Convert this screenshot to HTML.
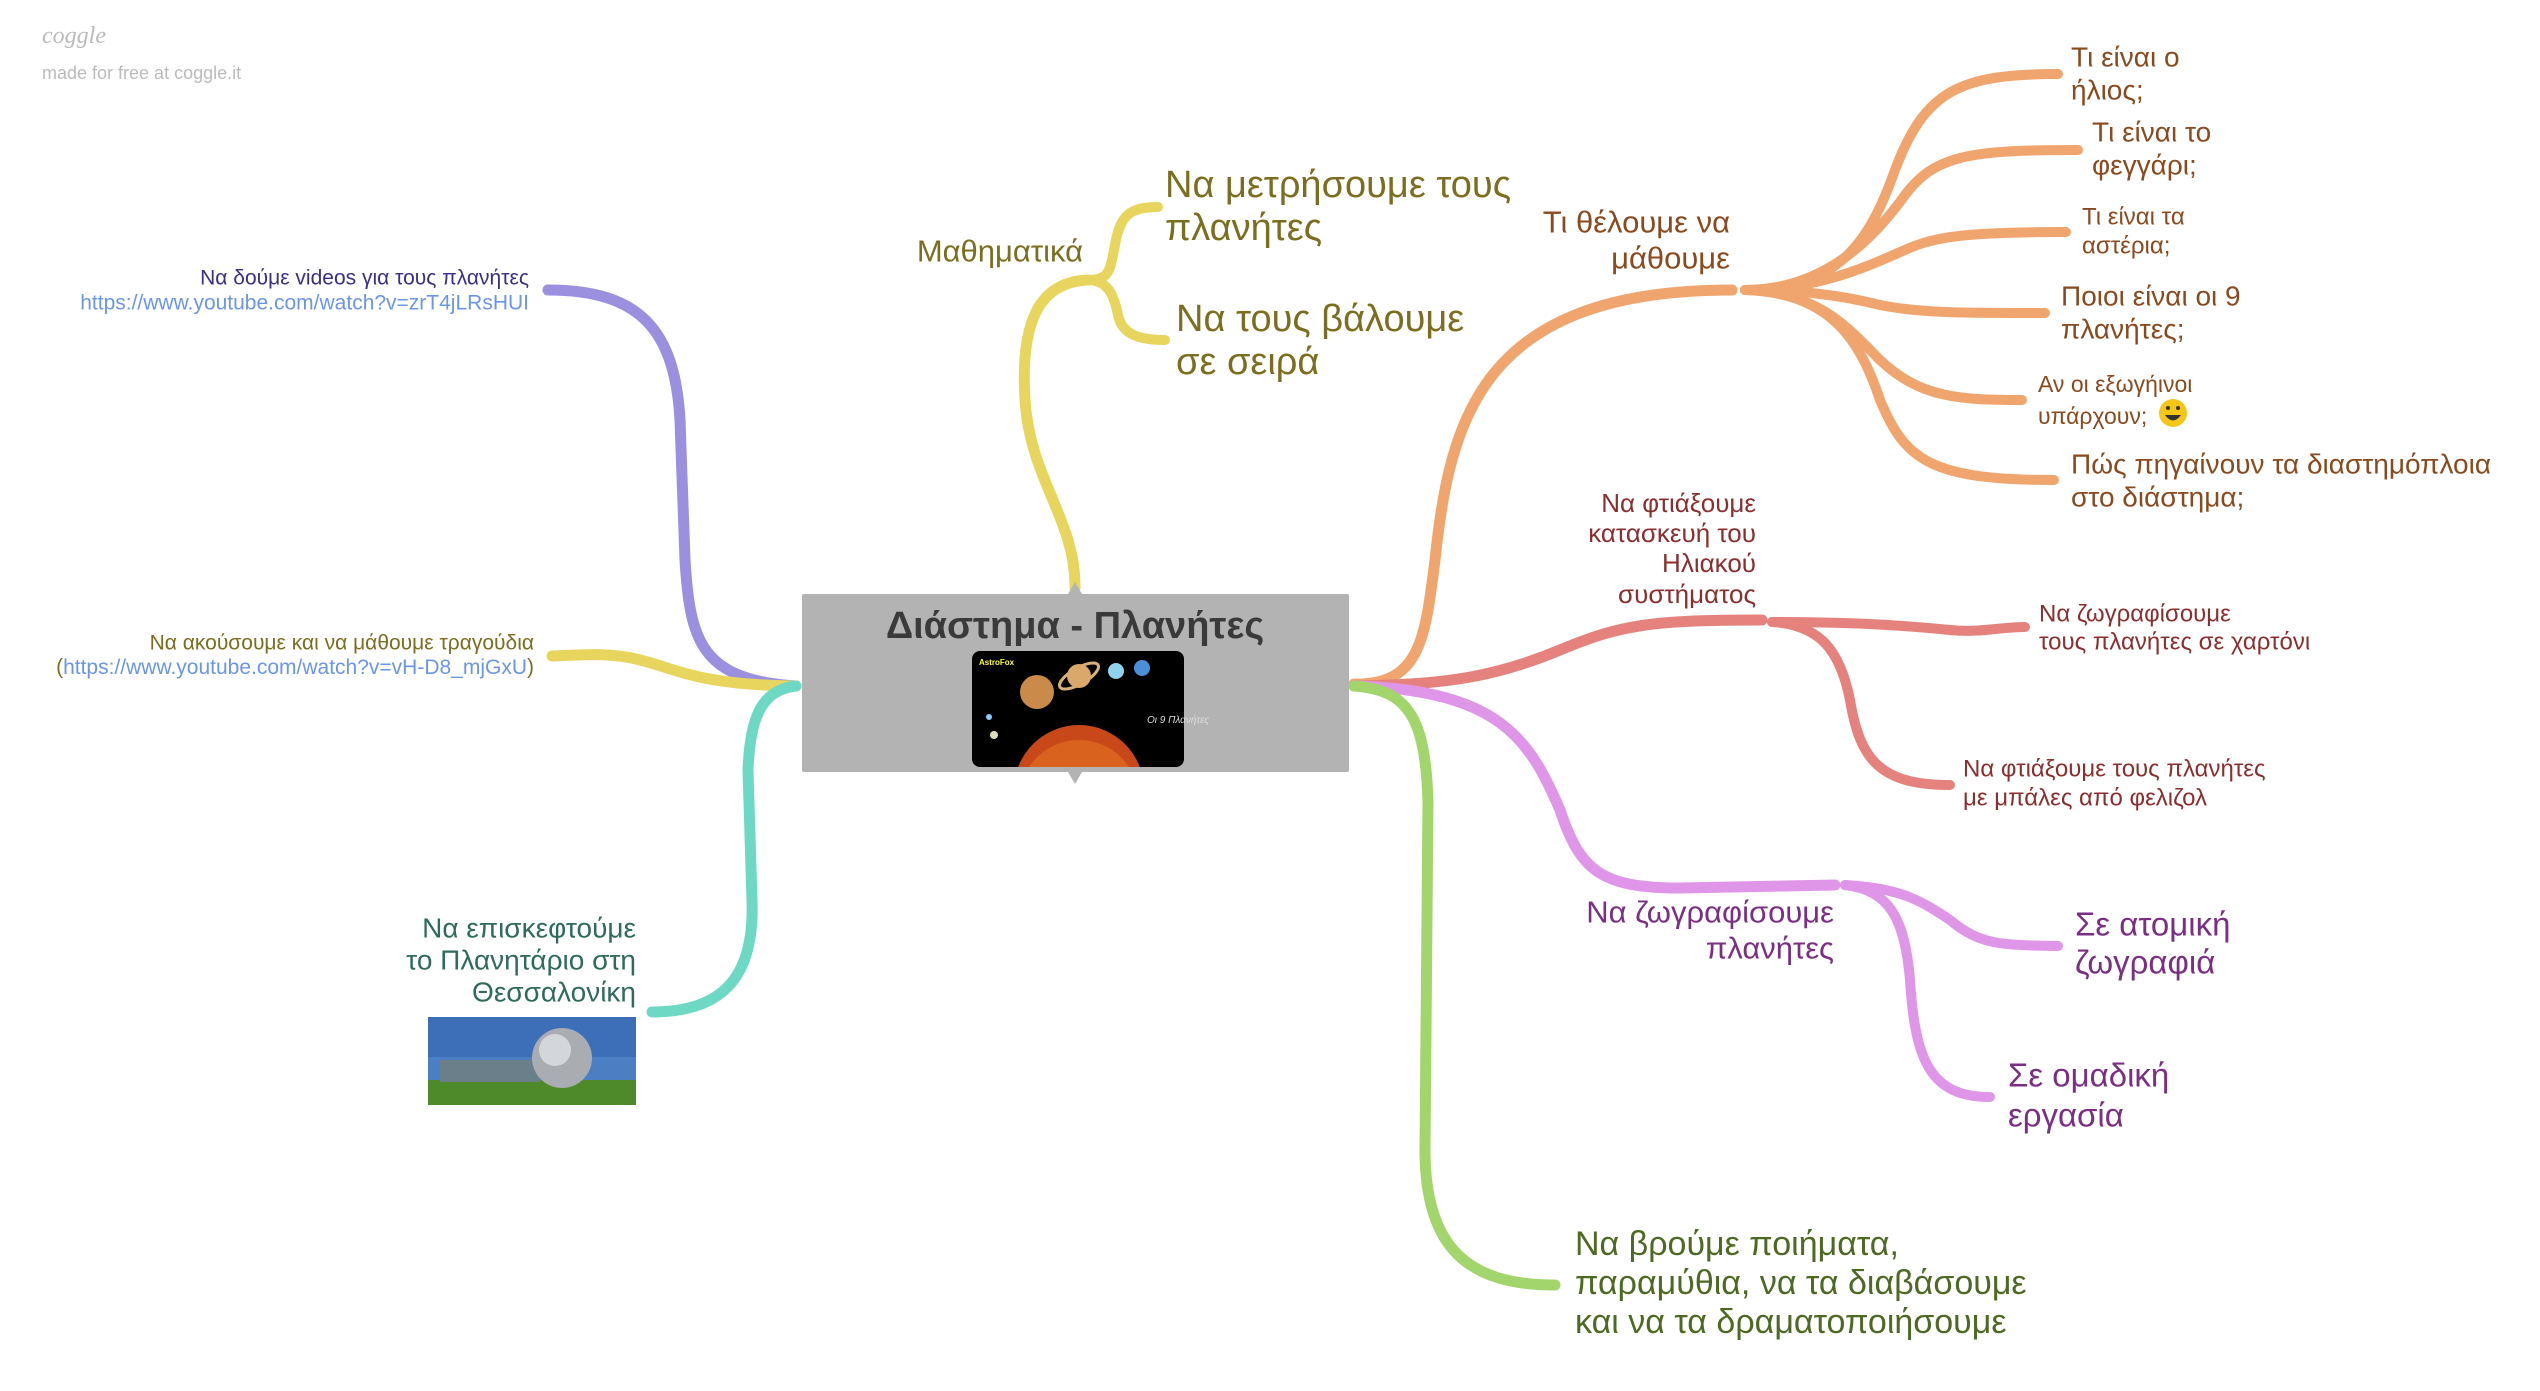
<!DOCTYPE html>
<html><head><meta charset="utf-8"><style>
html,body{margin:0;padding:0;background:#fff;}
svg{display:block;font-family:"Liberation Sans","Noto Sans CJK SC",sans-serif;}
</style></head><body>
<svg width="2540" height="1391" viewBox="0 0 2540 1391" xmlns="http://www.w3.org/2000/svg">
<g fill="none" stroke-linecap="round">
<path d="M796,686 C700,680 690,640 685,560 L680,420 C675,330 640,290 548,290" stroke="#9b8fe0" stroke-width="11"/>
<path d="M796,686 C700,685 680,670 640,660 C610,652 580,655 552,656" stroke="#e8d55e" stroke-width="11"/>
<path d="M796,686 C760,690 750,720 748,770 L752,900 C755,980 720,1012 652,1012" stroke="#6dd9c4" stroke-width="11"/>
<path d="M1075,588 C1076,520 1030,480 1025,400 C1020,320 1040,282 1088,280" stroke="#e8d55e" stroke-width="11"/>
<path d="M1088,280 C1110,280 1110,270 1115,245 C1120,215 1130,207 1158,207" stroke="#e8d55e" stroke-width="10"/>
<path d="M1088,280 C1110,280 1115,300 1118,315 C1122,335 1140,340 1165,340" stroke="#e8d55e" stroke-width="10"/>
<path d="M1354,684 C1420,685 1425,640 1435,560 C1450,420 1480,290 1732,290" stroke="#f0a56e" stroke-width="11"/>
<g stroke="#f0a56e" stroke-width="10">
<path d="M1745,290 C1840,290 1870,240 1895,170 C1925,90 1960,74 2058,74"/>
<path d="M1745,290 C1830,290 1880,230 1905,195 C1935,155 1970,150 2078,150"/>
<path d="M1745,290 C1820,290 1870,265 1905,250 C1935,236 1970,232 2066,232"/>
<path d="M1745,290 C1800,290 1840,295 1880,305 C1920,313 1960,313 2045,313"/>
<path d="M1745,290 C1820,292 1850,330 1880,360 C1920,398 1960,400 2022,400"/>
<path d="M1745,290 C1830,292 1860,340 1880,400 C1905,460 1930,480 2054,480"/>
</g>
<path d="M1354,686 C1450,685 1500,675 1560,650 C1620,625 1650,620 1762,620" stroke="#e5827e" stroke-width="11"/>
<path d="M1772,622 C1850,622 1900,625 1950,630 C1980,633 2000,627 2025,627" stroke="#e5827e" stroke-width="10"/>
<path d="M1772,622 C1820,625 1840,650 1850,700 C1860,760 1880,785 1950,785" stroke="#e5827e" stroke-width="10"/>
<path d="M1354,686 C1500,690 1530,740 1560,810 C1580,870 1600,888 1680,888 L1835,885" stroke="#e096e8" stroke-width="11"/>
<path d="M1845,885 C1900,888 1920,900 1950,920 C1980,945 2000,945 2058,946" stroke="#e096e8" stroke-width="10"/>
<path d="M1845,885 C1890,890 1905,920 1910,980 C1915,1060 1930,1097 1990,1097" stroke="#e096e8" stroke-width="10"/>
<path d="M1354,686 C1410,690 1425,720 1428,800 L1425,1150 C1425,1250 1470,1285 1555,1285" stroke="#a2d66c" stroke-width="11"/>
</g>

<rect x="802" y="594" width="547" height="178" fill="#b3b3b3" rx="2"/>
<polygon points="1068,594 1082,594 1075,582" fill="#b3b3b3"/>
<polygon points="1068,772 1082,772 1075,784" fill="#b3b3b3"/>
<text x="1075" y="626" text-anchor="middle" dominant-baseline="central" font-size="38" font-weight="bold" fill="#3a3a3a">Διάστημα - Πλανήτες</text>
<clipPath id="c1"><rect x="972" y="651" width="212" height="116" rx="8"/></clipPath>
<rect x="972" y="651" width="212" height="116" rx="8" fill="#000"/>
<circle cx="1079" cy="790" r="65" fill="#c9481a" clip-path="url(#c1)"/>
<circle cx="1079" cy="800" r="60" fill="#d9621f" clip-path="url(#c1)"/>
<circle cx="1037" cy="692" r="17" fill="#c98a4a"/>
<ellipse cx="1079" cy="676" rx="22" ry="8" fill="none" stroke="#d9b07a" stroke-width="3" transform="rotate(-30 1079 676)"/>
<circle cx="1079" cy="676" r="12" fill="#d9a86a"/>
<circle cx="1116" cy="671" r="8" fill="#8fd3ef"/>
<circle cx="1142" cy="668" r="8" fill="#4a8fd8"/>
<text x="979" y="665" font-size="8" fill="#ff4" font-weight="bold">AstroFox</text>
<text x="1147" y="723" font-size="10" fill="#ddd" font-style="italic">Οι 9 Πλανήτες</text>
<circle cx="994" cy="735" r="4" fill="#ddb"/><circle cx="989" cy="717" r="3" fill="#8cf"/>

<rect x="428" y="1017" width="208" height="88" fill="#4a7fc4"/>
<rect x="428" y="1017" width="208" height="40" fill="#3d6fb8"/>
<rect x="428" y="1080" width="208" height="25" fill="#4f8a2a"/>
<rect x="440" y="1060" width="100" height="22" fill="#6a7f8a"/>
<circle cx="562" cy="1058" r="30" fill="#a9adb2"/>
<circle cx="555" cy="1050" r="16" fill="#d3d6da"/>

<text x="42" y="43" font-size="24" fill="#bbb" font-style="italic" font-family="Liberation Serif,serif">coggle</text>
<text x="42" y="79" font-size="18" fill="#bbb">made for free at coggle.it</text>

<g dominant-baseline="central">
<g text-anchor="end" font-size="21">
<text x="529" y="278" fill="#3b2e87">Να δούμε videos για τους πλανήτες</text>
<text x="529" y="303" fill="#6b96e8">https://www.youtube.com/watch?v=zrT4jLRsHUI</text>
<text x="534" y="643" fill="#7b6e1f">Να ακούσουμε και να μάθουμε τραγούδια</text>
<text x="534" y="667" fill="#7b6e1f">(<tspan fill="#6b96e8">https://www.youtube.com/watch?v=vH-D8_mjGxU</tspan>)</text>
</g>
<g text-anchor="end" font-size="28" fill="#2e6b5c">
<text x="636" y="928">Να επισκεφτούμε</text>
<text x="636" y="960">το Πλανητάριο στη</text>
<text x="636" y="992">Θεσσαλονίκη</text>
</g>
<text x="1083" y="251" text-anchor="end" font-size="31" fill="#7b6e1f">Μαθηματικά</text>
<g font-size="38" fill="#7b6e1f">
<text x="1165" y="185">Να μετρήσουμε τους</text>
<text x="1165" y="228">πλανήτες</text>
<text x="1176" y="319">Να τους βάλουμε</text>
<text x="1176" y="362">σε σειρά</text>
</g>
<g text-anchor="end" font-size="31" fill="#8a4a1e">
<text x="1730" y="222">Τι θέλουμε να</text>
<text x="1730" y="258">μάθουμε</text>
</g>
<g font-size="28" fill="#8a4a1e">
<text x="2071" y="57">Τι είναι ο</text>
<text x="2071" y="90">ήλιος;</text>
<text x="2092" y="132">Τι είναι το</text>
<text x="2092" y="165">φεγγάρι;</text>
<text x="2061" y="296">Ποιοι είναι οι 9</text>
<text x="2061" y="329">πλανήτες;</text>
<text x="2071" y="464">Πώς πηγαίνουν τα διαστημόπλοια</text>
<text x="2071" y="497">στο διάστημα;</text>
</g>
<g font-size="24" fill="#8a4a1e">
<text x="2082" y="217">Τι είναι τα</text>
<text x="2082" y="246">αστέρια;</text>
</g>
<g font-size="23" fill="#8a4a1e">
<text x="2038" y="384">Αν οι εξωγήινοι</text>
<text x="2038" y="416">υπάρχουν;</text>
</g>
<circle cx="2173" cy="413" r="14" fill="#f5c518"/>
<circle cx="2168" cy="408" r="2" fill="#333"/><circle cx="2178" cy="408" r="2" fill="#333"/>
<path d="M2165,415 Q2173,426 2181,415 Z" fill="#333"/>
<g text-anchor="end" font-size="26" fill="#8b2e2e">
<text x="1756" y="503">Να φτιάξουμε</text>
<text x="1756" y="533">κατασκευή του</text>
<text x="1756" y="563">Ηλιακού</text>
<text x="1756" y="594">συστήματος</text>
</g>
<g font-size="24" fill="#8b2e2e">
<text x="2039" y="614">Να ζωγραφίσουμε</text>
<text x="2039" y="642">τους πλανήτες σε χαρτόνι</text>
<text x="1963" y="769">Να φτιάξουμε τους πλανήτες</text>
<text x="1963" y="798">με μπάλες από φελιζολ</text>
</g>
<g text-anchor="end" font-size="31" fill="#7b2e83">
<text x="1834" y="912">Να ζωγραφίσουμε</text>
<text x="1834" y="948">πλανήτες</text>
</g>
<g font-size="33" fill="#7b2e83">
<text x="2075" y="924">Σε ατομική</text>
<text x="2075" y="962">ζωγραφιά</text>
<text x="2008" y="1075">Σε ομαδική</text>
<text x="2008" y="1115">εργασία</text>
</g>
<g font-size="34" fill="#4e6a22">
<text x="1575" y="1244">Να βρούμε ποιήματα,</text>
<text x="1575" y="1283">παραμύθια, να τα διαβάσουμε</text>
<text x="1575" y="1322">και να τα δραματοποιήσουμε</text>
</g>
</g>
</svg>
</body></html>
